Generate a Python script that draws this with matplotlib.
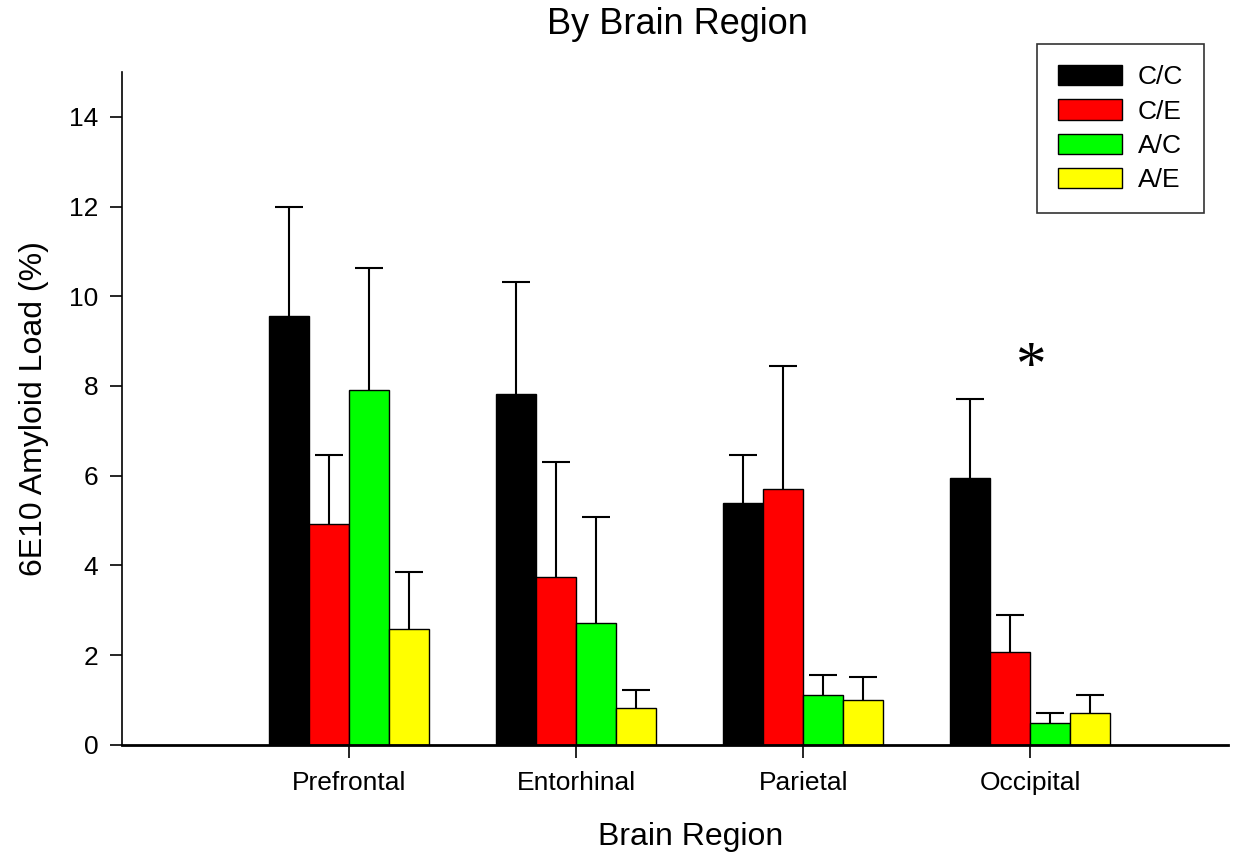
import matplotlib.pyplot as plt
import numpy as np

plt.rcParams['font.family'] = ['Liberation Sans', 'DejaVu Sans']

regions = ['Prefrontal', 'Entorhinal', 'Parietal', 'Occipital']
groups = ['C/C', 'C/E', 'A/C', 'A/E']
colors = ['#000000', '#ff0000', '#00ff00', '#ffff00']

# mean values per group, one entry per region
cc = [9.56, 7.82, 5.39, 5.94]
ce = [4.93, 3.74, 5.70, 2.07]
ac = [7.91, 2.71, 1.10, 0.48]
ae = [2.59, 0.83, 0.99, 0.71]

# upper error (SEM)
cc_err = [2.43, 2.49, 1.08, 1.77]
ce_err = [1.52, 2.56, 2.75, 0.83]
ac_err = [2.72, 2.37, 0.46, 0.22]
ae_err = [1.26, 0.40, 0.53, 0.41]

means = [cc, ce, ac, ae]
errs = [cc_err, ce_err, ac_err, ae_err]

fig = plt.figure(figsize=(12.43, 8.58), dpi=100)
ax = fig.add_axes([0.098, 0.132, 0.89, 0.784])

x = np.arange(len(regions))
width = 0.176
for i in range(4):
    pos = x + (i - 1.5) * width
    ax.bar(pos, means[i], width, color=colors[i], edgecolor='black',
           linewidth=1, label=groups[i], zorder=2)
    eb = ax.errorbar(pos, means[i], yerr=[np.zeros(4), errs[i]], fmt='none',
                     ecolor='black', elinewidth=1.5, capsize=10, capthick=1.5, zorder=1)
    # only the upper cap
    eb[1][0].set_visible(False)

# significance marker over occipital
ax.text(x[3], 8.4, '*', fontsize=44, ha='center', va='center',
        family='Liberation Serif')

ax.set_xlim(-1.0, 3.87)
ax.set_ylim(0, 15)
ax.set_yticks([0, 2, 4, 6, 8, 10, 12, 14])
ax.set_xticks(x)
ax.set_xticklabels(regions)
ax.tick_params(axis='both', direction='out', length=9, width=1.2, labelsize=19)
ax.tick_params(axis='x', pad=10)
ax.tick_params(axis='y', pad=8)
ax.spines['top'].set_visible(False)
ax.spines['right'].set_visible(False)
ax.spines['left'].set_linewidth(1.2)
ax.spines['bottom'].set_linewidth(2)

ax.set_xlabel('Brain Region', fontsize=23, labelpad=20)
ax.xaxis.set_label_coords(0.514, -0.115)
ax.set_ylabel('6E10 Amyloid Load (%)', fontsize=23, labelpad=14)
fig.text(0.545, 1 - 25 / 858, 'By Brain Region', fontsize=26, ha='center', va='center')

leg = ax.legend(loc='upper right', bbox_to_anchor=(1204 / 1243, 1 - 44 / 858),
                bbox_transform=fig.transFigure, fontsize=19, fancybox=False,
                edgecolor='black', handlelength=2.4, handleheight=0.8,
                borderpad=0.8, labelspacing=0.38, handletextpad=0.6,
                borderaxespad=0)
leg.get_frame().set_linewidth(1.2)

fig.savefig('out.png', dpi=100)
